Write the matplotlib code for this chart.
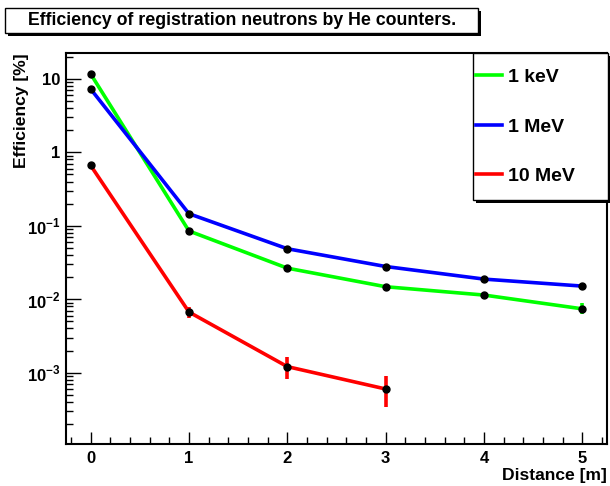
import numpy as np
import matplotlib.pyplot as plt
from matplotlib.patches import Rectangle
from matplotlib.ticker import FixedLocator, FuncFormatter

plt.rcParams['font.family'] = ['Liberation Sans', 'DejaVu Sans']
plt.rcParams['font.weight'] = 'bold'
plt.rcParams['mathtext.fontset'] = 'custom'
plt.rcParams['mathtext.rm'] = 'Liberation Sans:bold'
plt.rcParams['mathtext.bf'] = 'Liberation Sans:bold'

# distance in metres
dist = [0, 1, 2, 3, 4, 5]
dist_10mev = [0, 1, 2, 3]

# efficiency in percent
eff_1kev = [11.7, 0.085, 0.0265, 0.0148, 0.0114, 0.0074]
eff_1mev = [7.3, 0.146, 0.0487, 0.0279, 0.0188, 0.0151]
eff_10mev = [0.665, 0.0067, 0.00121, 0.00060]

# asymmetric errors (low, high)
err_1kev = [[0, 0, 0, 0, 0, 0.0012], [0, 0, 0, 0, 0, 0.0014]]
err_1mev = [[0, 0, 0, 0, 0, 0], [0, 0, 0, 0, 0, 0]]
err_10mev = [[0, 0.0011, 0.00039, 0.00026], [0, 0.0011, 0.00041, 0.00029]]

series = [
    ('1 keV', dist, eff_1kev, err_1kev, '#00ff00'),
    ('1 MeV', dist, eff_1mev, err_1mev, '#0000ff'),
    ('10 MeV', dist_10mev, eff_10mev, err_10mev, '#ff0000'),
]

fig = plt.figure(figsize=(6.1, 4.86), dpi=100)
ax = fig.add_axes([66 / 610, 42 / 486, 541 / 610, 391 / 486])

for label, x, y, err, col in series:
    ax.errorbar(x, y, yerr=err, fmt='none', ecolor=col, elinewidth=2.6, capsize=0)
    ax.plot(x, y, '-', color=col, lw=2.6, label=label)
    ax.plot(x, y, 'o', color='black', ms=5, zorder=5)

ax.set_yscale('log')
ax.set_xlim(-0.25, 5.25)
ax.set_ylim(1.07e-4, 22.5)

ax.xaxis.set_major_locator(FixedLocator(range(6)))
ax.xaxis.set_minor_locator(FixedLocator(np.arange(-0.2, 5.25, 0.2)))
ax.yaxis.set_major_locator(FixedLocator([1e-3, 1e-2, 1e-1, 1, 10]))
minor_y = [m * 10.0 ** e for e in range(-4, 2) for m in range(2, 10)]
ax.yaxis.set_minor_locator(FixedLocator(minor_y))


def ylab(v, pos):
    e = int(round(np.log10(v)))
    if e == 0:
        return '1'
    if e == 1:
        return '10'
    return r'$10^{%d}$' % e


ax.yaxis.set_major_formatter(FuncFormatter(ylab))
ax.yaxis.set_minor_formatter(FuncFormatter(lambda v, p: ''))

ax.tick_params(axis='both', which='both', direction='in', top=False, right=False,
               width=1, labelsize=12)
ax.tick_params(axis='y', which='major', length=11, pad=4)
ax.tick_params(axis='y', which='minor', length=5)
ax.tick_params(axis='x', which='major', length=9, pad=5)
ax.tick_params(axis='x', which='minor', length=5)
for s in ax.spines.values():
    s.set_linewidth(1.5)

fig.text(22 / 610, 1 - 53 / 486, 'Efficiency [%]', rotation=90, ha='center', va='top',
         fontsize=12.6, fontweight='bold')
fig.text(607 / 610, 1 - 475 / 486, 'Distance [m]', ha='right', va='center',
         fontsize=12.6, fontweight='bold')

# title box with shadow
fig.patches.append(Rectangle((8 / 610, 1 - 36 / 486), 473 / 610, 25 / 486,
                             transform=fig.transFigure, fc='black', ec='black', lw=0))
fig.patches.append(Rectangle((5 / 610, 1 - 33 / 486), 473 / 610, 25 / 486,
                             transform=fig.transFigure, fc='white', ec='black', lw=1))
fig.text(242 / 610, 1 - 20.5 / 486, 'Efficiency of registration neutrons by He counters.',
         ha='center', va='center', fontsize=12.8, fontweight='bold')

# legend box with shadow
fig.patches.append(Rectangle((476 / 610, 1 - 203 / 486), 135 / 610, 147 / 486,
                             transform=fig.transFigure, fc='black', ec='black', lw=0,
                             zorder=3))
fig.patches.append(Rectangle((473 / 610, 1 - 200 / 486), 135 / 610, 147 / 486,
                             transform=fig.transFigure, fc='white', ec='black', lw=1,
                             zorder=3.1))
leg = ax.legend(loc='center left', bbox_to_anchor=(476 / 610, 1 - 126.7 / 486),
                bbox_transform=fig.transFigure, borderaxespad=0, borderpad=0,
                fontsize=14, frameon=False, handlelength=1.35,
                handletextpad=0.3, labelspacing=1.63)
leg.set_zorder(4)
fig.legends.append(leg)
ax.get_legend().remove()
for t in leg.get_texts():
    t.set_fontweight('bold')

fig.savefig('out.png', dpi=100)
